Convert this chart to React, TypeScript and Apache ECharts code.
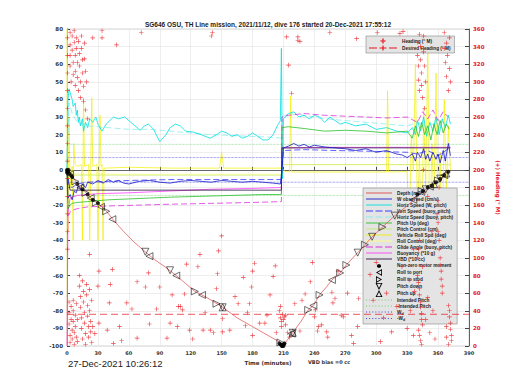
import React, { useEffect, useRef } from 'react';
import * as echarts from 'echarts';

const TITLE = 'SG646 OSU, TH Line mission, 2021/11/12, dive 176 started 20-Dec-2021 17:55:12';
const DATE_TEXT = '27-Dec-2021 10:26:12';
const VBD_TEXT = 'VBD bias =0 cc';

const X_MIN = 0, X_MAX = 390, X_STEP = 30;
const L_MIN = -100, L_MAX = 80, L_STEP = 10;
const R_MIN = 0, R_MAX = 360, R_STEP = 20;

const depthData = [[0,0],[1,-1],[6,-4.5],[11,-8.5],[16,-11.5],[20,-14],[25,-17],[30,-19],[35,-21.5],[39,-24],[45,-28.5],[55,-35],[65,-41],[76,-46.5],[85,-51],[95,-55],[106,-60],[115,-64.5],[124,-69],[131,-71],[140,-74],[151,-78],[165,-84],[180,-89],[195,-94],[207,-98],[209,-100],[212,-98],[219,-92.5],[227,-86],[234,-79.5],[239,-77],[245,-71],[251,-67],[257,-62.5],[265,-58.5],[271,-54],[282,-47],[289,-42.5],[296,-38],[306,-32.5],[318,-26],[333,-19],[340,-14],[354,-9],[362,-5],[370,-1]];

const wObsData = [[0,0],[1,-16],[3,-14],[5,-17],[7,-12],[9,-13],[11,-9],[13,-11],[15,-8],[18,-10],[20,-7],[25,-8],[30,-6],[35,-7.5],[40,-5.5],[45,-7],[50,-6],[55,-7.5],[60,-8],[70,-6.5],[80,-6],[90,-7],[100,-7.5],[110,-6.5],[120,-6],[130,-6.5],[140,-7],[150,-6],[160,-6.5],[170,-7],[180,-6.5],[190,-7],[200,-7.5],[207,-8],[208.5,0],[210,12.5],[215,13.5],[220,15],[225,13.5],[230,14.5],[235,13],[240,14],[250,13],[260,12.5],[270,12],[280,11],[290,12],[300,10],[310,11],[320,9],[325,8.5],[330,7],[335,9],[338,5],[340,10],[343,7],[346,12],[348,6],[350,9],[352,5],[355,10],[358,6],[360,9],[362,4],[365,11],[367,5],[370,15],[372,8]];

const vertBuoyData = [[0,0],[2,-9],[5,-10],[10,-8],[20,-7],[40,-6.5],[60,-6],[100,-5.5],[150,-5.5],[208,-5.5],[208.5,0],[210,11],[230,11.5],[260,11],[300,10.5],[330,10],[340,9],[350,11],[360,8],[370,12]];

const horizWData = [[0,0],[1,40],[2,46],[3,44],[5,40],[6,36],[8,38],[9,31],[10,34],[11,27],[12,30],[13,25],[15,29],[16,22],[18,27],[20,24],[22,29],[25,27],[28,30],[30,26],[34,22],[38,26],[45,30],[50,29],[56,30],[62,27],[71,22.5],[75,25],[79,26],[84,23],[90,16],[96,20],[100,24],[105,26],[110,25],[115,22],[122,21.5],[130,20],[139,18],[145,20],[150,22],[155,21],[160,19],[165,20],[170,18],[175,19],[180,21],[185,19],[190,17],[195,17],[200,20],[204,25],[207,28],[208,69],[209,-5],[210,29],[215,32],[220,33],[225,30],[230,31],[235,29],[240,31],[245,30],[250,27],[255,30],[260,28],[265,26],[270,27],[280,25],[290,26],[300,23],[310,24],[320,22],[330,21],[335,24],[338,20],[340,28],[343,22],[346,30],[349,19],[352,27],[355,22],[358,30],[361,20],[364,29],[367,24],[370,31],[372,26]];

const horizBuoyData = [[0,0],[2,38],[5,32],[10,27],[20,25],[40,24],[60,23],[80,23],[100,22],[120,21],[140,20],[160,19.5],[180,19],[200,18.5],[208,18],[209,30],[215,32],[230,31],[250,29],[270,28],[290,27],[310,26],[330,25],[340,27],[350,24],[360,28],[370,26]];

const pitchUpData = [[0,0],[1,-22],[3,-20],[5,-19],[10,-18.5],[20,-18],[40,-17],[60,-16.5],[80,-16],[100,-15.5],[130,-15],[160,-14.5],[190,-14],[208,-14],[208.5,24],[215,24.5],[230,23.5],[250,22],[270,22.5],[290,22],[310,21],[330,22],[335,18],[338,25],[341,19],[344,27],[347,20],[350,25],[353,17],[356,26],[359,20],[362,28],[365,21],[368,26],[371,23]];

const pitchCtrlData = [[0,0],[2,-3],[208,-3],[208.5,3],[372,3]];

const rollData = [[0,0],[1,-35],[2,30],[3,-10],[5,2],[6,-40],[6.5,15],[8,3],[10,2],[14,3],[15,-40],[16,41],[17,2],[21,3],[22,-40],[24,41],[25,2],[29,3],[30,-40],[32,31],[33,2],[34,3],[35,-40],[36,1],[60,1.5],[100,1],[148,1],[150,10],[152,1],[208,1],[212,-1],[216,-1],[217,42],[218,-1.2],[260,-1.2],[310,-1.2],[311,45],[312,-1.2],[330,-1],[332,-40],[334,20],[336,-1],[338,60],[340,-30],[342,10],[344,-55],[346,35],[348,-10],[350,70],[352,-45],[354,15],[356,-20],[358,55],[360,-35],[362,10],[364,-60],[366,40],[368,-15],[370,25],[372,0]];

const rollCtrlData = [[0,-100],[0,80],[0.5,-2.5],[208,-2.5],[209,3],[372,3]];

const glideData = [[0,0],[1,-26],[3,-24],[5,-23],[10,-22],[20,-21],[40,-20.5],[70,-20],[100,-19.5],[140,-19],[180,-18.5],[208,-18],[208.5,30],[215,31],[230,32],[250,31],[270,30.5],[290,30],[310,29.5],[330,30],[340,27],[345,33],[350,29],[355,34],[360,28],[365,33],[370,30]];

const buoyData = [[0,-100],[0.5,-60],[1,-24],[3,-16],[10,-14.5],[30,-13.5],[60,-13],[100,-12],[140,-11],[180,-10.5],[208,-10],[208.5,12.5],[250,12.8],[300,12.8],[372,12.8]];

const vbdData = [[0,0],[1,-5],[3,-11.5],[208,-11.5],[208.5,12.5],[372,12.5]];

const motorData = [[0,0],[0.5,-0.5],[1,-1],[1.5,0],[0,-1.5],[2,-2],[4,-3],[5,-4],[10,-8],[15,-11],[20,-14],[25,-17],[30,-19],[206,-98.5],[207,-99],[208,-99.5],[208.5,-100],[209,-100],[209.5,-99.5],[210,-100],[210.5,-99],[211,-98.5],[340,-14],[345,-12],[350,-10],[354,-9],[358,-7],[362,-5],[366,-3],[370,-1]];

const rollPortData = [[3,-2.5],[13,-10],[23,-16],[33,-21],[44,-28],[80,-49],[106,-60],[131,-71],[218,-93],[239,-77],[257,-62.5],[336,-17],[352,-9.5],[366,-3]];
const rollStbdData = [[8,-6.5],[18,-13],[28,-18.5],[38,-23.5],[124,-69],[145,-76],[207,-98],[234,-79.5],[245,-71],[265,-58.5],[271,-54],[289,-42.5],[306,-32.5],[344,-12],[360,-6]];
const pitchDownData = [[76,-46.5],[100,-57],[151,-78],[219,-92.5],[282,-47],[296,-38],[318,-26],[348,-11],[362,-5]];
const pitchUpMarkData = [[151,-78],[219,-92.5],[356,-8],[368,-2]];

const intendedPitch = 14.5;
const wDesired = 7;
const desiredHeading = 36;

const headingData = [
[0.5,110],[0.5,130],[0.5,150],[0.5,170],[0.5,190],[0.5,210],[0.5,230],[0.5,250],[0.5,270],[0.5,290],[0.5,310],[0.5,330],[0.5,350],
[3,356],[3,342],[3,330],[3,318],[4,300],[5,352],[5,336],[6,322],[6,308],[7,358],[7,345],[8,330],[8,312],[8,296],[9,350],[9,338],[10,322],[10,305],[11,290],[11,346],[12,332],[12,318],[13,300],[13,282],[14,352],[14,338],[15,325],[15,310],[16,295],[16,278],[17,344],[17,326],[18,312],[18,268],[19,300],[20,258],
[25,350],[34,358],[34,350],[48,342],[72,356],[141,356],[140,352],[213,351],[224,351],[224,347],[255,356],[281,349],[301,356],[323,355],[326,357],[342,354],[215,319],[218,287],[226,346],
[340,345],[340,330],[341,318],[341,302],[342,290],[343,340],[343,325],[344,310],[344,296],[345,282],[346,352],[346,334],[347,318],[347,270],[348,300],
[366,356],[366,338],[367,322],[368,344],[368,306],[369,330],[370,290],[371,350],[371,315],[372,300],
[2,50],[2,38],[2,25],[3,12],[3,4],[4,45],[4,30],[5,18],[5,8],[6,52],[6,40],[6,28],[7,15],[7,2],[8,35],[8,22],[9,10],[9,48],[10,30],[10,5],[12,80],[12,68],[13,56],[13,44],[14,32],[14,20],[15,8],[15,74],[16,62],[16,50],[17,38],[17,26],[18,14],[18,2],[19,70],[19,58],[20,46],[20,34],[21,22],[21,10],[22,64],[22,40],[23,28],[23,16],[24,52],[24,4],
[22,104],[31,85],[44,87],[42,70],[30,68],[41,49],[58,49],[63,42],[68,73],[79,83],[76,67],[90,67],[87,42],[102,58],[100,26],[80,25],[51,22],[39,18],[27,14],[68,9],[97,9],[45,3],[53,6],[108,45],[31,26],[25,22],
[150,125],[147,108],[129,104],[116,93],[127,90],[146,82],[182,94],[180,85],[202,91],[171,78],[200,79],[145,65],[179,67],[197,58],[163,56],[114,59],[166,48],[177,48],[110,45],[112,41],[134,38],[175,38],[194,35],[107,22],[119,18],[132,18],[139,18],[151,16],[158,18],[173,23],[187,26],[192,26],[122,8],[142,15],[151,31],[180,12],[203,15],[207,32],
[206,40],[207,45],[208,28],[208,22],[209,36],[210,30],[211,33],[212,35],[212,24],[214,15],[216,10],
[238,95],[236,73],[231,59],[221,48],[228,52],[241,41],[257,61],[260,54],[263,85],[272,60],[268,33],[258,49],[244,22],[247,24],[252,16],[253,10],[276,12],[278,3],[283,54],[282,22],[266,35],[240,33],[243,17],[226,17],
[294,81],[297,52],[307,32],[315,16],[304,5],[310,60],[320,45],[325,90],[300,95],
[340,80],[341,72],[342,65],[342,58],[343,50],[343,44],[344,37],[344,30],[345,24],[341,18],[342,12],[343,6],[344,2],[345,90],[340,100],[341,110],[342,120],
[359,150],[360,140],[360,130],[361,120],[361,110],[362,100],[362,92],[363,85],[363,76],[364,68],[364,60],[360,165],[361,180],
[370,46],[371,40],[371,33],[372,26],[372,19],[373,12],[373,6],[370,2],[368,10],[368,22],
[330,20],[333,40],[336,12],[337,62],[348,30],[350,55],[352,15],[355,40],[357,8],[354,130],[350,170],[346,200],[336,110],[332,75]
];

const PLUS = 'path://M4.3,0h1.4v4.3h4.3v1.4h-4.3v4.3h-1.4v-4.3h-4.3v-1.4h4.3z';
const RED = '#e8141c';

// legend icon shapes
const ICON_LINE = 'path://M0,0h26v0.9h-26z';
const ICON_DASH = 'path://M0,0h7v0.9h-7zM9.5,0h7v0.9h-7zM19,0h7v0.9h-7z';
const ICON_DOT = 'path://M0,0h1v1h-1zM3,0h1v1h-1zM6,0h1v1h-1zM9,0h1v1h-1zM12,0h1v1h-1zM15,0h1v1h-1zM18,0h1v1h-1zM21,0h1v1h-1zM24,0h1v1h-1z';
const ICON_DOTMARK = 'path://M0,0M26,7M12,2.3h2l1,1v1.4l-1,1h-2l-1,-1v-1.4z';
const ICON_PLUS_ONLY = 'path://M0,0M28,6M13.2,0.5h1.6v1.7h1.7v1.6h-1.7v1.7h-1.6v-1.7h-1.7v-1.6h1.7z';
const ICON_DESIRED = 'path://M0,2.6h8v0.8h-8zM10.5,2.6h7v0.8h-7zM20,2.6h8v0.8h-8zM13.4,0.5h1.2v1.9h1.9v1.2h-1.9v1.9h-1.2v-1.9h-1.9v-1.2h1.9z';
const ICON_TRI_PORT = 'path://M0,0M26,7M16,0L16,7L10,3.5ZM15.2,1.4L11.6,3.5L15.2,5.6Z';
const ICON_TRI_STBD = 'path://M0,0M26,7M10,0L16,3.5L10,7ZM10.8,1.4L10.8,5.6L14.4,3.5Z';
const ICON_TRI_DOWN = 'path://M0,0M26,7M9.5,0L16.5,0L13,7ZM10.9,0.8L13,5L15.1,0.8Z';
const ICON_TRI_UP = 'path://M0,0M26,7M13,0L16.5,7L9.5,7ZM13,2L10.9,6.2L15.1,6.2Z';

function lineS(name: string, data: number[][], color: string, type: any = 'solid', width = 0.8, z = 2) {
  return {
    type: 'line', name, data, yAxisIndex: 0, symbol: 'none', showSymbol: false,
    lineStyle: { color, width, type }, itemStyle: { color }, z, silent: true,
  };
}
function markS(name: string, data: number[][], rotate: number) {
  return {
    type: 'scatter', name, data, yAxisIndex: 0, symbol: 'triangle', symbolSize: 7, symbolRotate: rotate,
    itemStyle: { color: 'rgba(255,255,255,0)', borderColor: '#000', borderWidth: 0.7 }, z: 6,
  };
}

const blackIcon = { color: '#000', borderWidth: 0, opacity: 1 };
const legendMain = [
  { name: 'Depth (m/10)', icon: ICON_LINE },
  { name: 'W observed (cm/s)', icon: ICON_LINE },
  { name: 'Horiz Speed (W, pitch)', icon: ICON_LINE },
  { name: 'Vert Speed (buoy, pitch)', icon: ICON_DASH },
  { name: 'Horiz Speed (buoy, pitch)', icon: ICON_DASH },
  { name: 'Pitch Up (deg)', icon: ICON_LINE },
  { name: 'Pitch Control (cm)', icon: ICON_LINE },
  { name: 'Vehicle Roll Spd (deg)', icon: ICON_LINE },
  { name: 'Roll Control (deg)', icon: ICON_LINE },
  { name: 'Glide Angle (buoy, pitch)', icon: ICON_DASH },
  { name: 'Buoyancy (*10 g)', icon: ICON_LINE },
  { name: 'VBD (*10 cc)', icon: ICON_LINE },
  { name: 'Non-zero motor moment', icon: ICON_DOTMARK, itemStyle: blackIcon },
  { name: 'Roll to port', icon: ICON_TRI_PORT, itemStyle: blackIcon },
  { name: 'Roll to stbd', icon: ICON_TRI_STBD, itemStyle: blackIcon },
  { name: 'Pitch down', icon: ICON_TRI_DOWN, itemStyle: blackIcon },
  { name: 'Pitch up', icon: ICON_TRI_UP, itemStyle: blackIcon },
  { name: 'Intended Pitch', icon: ICON_DOT },
  { name: '-Intended Pitch', icon: ICON_DOT },
  { name: 'W_d', icon: ICON_DOT },
  { name: '-W_d', icon: ICON_DOT },
];
const legendHead = [
  { name: 'Heading (° M)', icon: ICON_PLUS_ONLY },
  { name: 'Desired Heading (° M)', icon: ICON_DESIRED },
];

export default function App() {
  const ref = useRef<HTMLDivElement>(null);
  useEffect(() => {
    const chart = echarts.init(ref.current!, null, { renderer: 'svg' });
    const axisLabel = { fontSize: 5.5, fontWeight: 'bold', color: '#333', fontFamily: 'DejaVu Sans' };
    const legendText = { fontSize: 4.7, fontWeight: 'bold', color: '#222', fontFamily: 'Liberation Sans', lineHeight: 6,
      rich: { w: { fontSize: 4.7, fontWeight: 'bold', fontFamily: 'Liberation Sans', color: '#222' }, s: { fontSize: 3.5, fontWeight: 'bold', fontFamily: 'Liberation Sans', color: '#222', padding: [3, 0, 0, 0] } } };
    const option: any = {
      animation: false,
      backgroundColor: '#fff',
      grid: { left: 67, right: 51, top: 29, bottom: 44, show: true, borderColor: '#aaa', borderWidth: 0.5 },
      xAxis: {
        type: 'value', min: X_MIN, max: X_MAX, interval: X_STEP,
        name: 'Time (minutes)', nameLocation: 'middle', nameGap: 12,
        nameTextStyle: { fontSize: 5.5, fontWeight: 'bold', color: '#333', fontFamily: 'DejaVu Sans' },
        axisLine: { lineStyle: { color: '#444', width: 0.8 } },
        axisTick: { inside: true, length: 3, lineStyle: { color: '#444' } },
        axisLabel: { ...axisLabel, fontSize: 5, margin: 4 },
        splitLine: { show: true, lineStyle: { color: '#e2e2e2', width: 0.6 } },
      },
      yAxis: [
        {
          type: 'value', min: L_MIN, max: L_MAX, interval: L_STEP, position: 'left',
          axisLine: { show: true, lineStyle: { color: '#444', width: 0.8 } },
          axisTick: { show: true, inside: true, length: 3, lineStyle: { color: '#444' } },
          axisLabel: { ...axisLabel, margin: 4 },
          splitLine: { show: true, lineStyle: { color: '#e2e2e2', width: 0.6 } },
        },
        {
          type: 'value', min: R_MIN, max: R_MAX, interval: R_STEP, position: 'right',
          name: '(+) Heading (° M)', nameLocation: 'middle', nameRotate: -90, nameGap: 16,
          nameTextStyle: { fontSize: 5.5, fontWeight: 'bold', color: RED, fontFamily: 'DejaVu Sans' },
          axisLine: { show: true, lineStyle: { color: '#7a2a2a', width: 0.8 } },
          axisTick: { show: true, inside: true, length: 4, lineStyle: { color: '#444' } },
          axisLabel: { ...axisLabel, color: RED, margin: 4 },
          splitLine: { show: false },
        },
      ],
      legend: [
        {
          data: legendHead, orient: 'vertical', left: 366, top: 36, itemWidth: 28, itemHeight: 6, itemGap: 1,
          padding: [2, 4, 2, 3], backgroundColor: '#e4e4e4', borderColor: '#888', borderWidth: 0.6,
          textStyle: legendText, selectedMode: false, symbolKeepAspect: true, symbolRotate: 0, z: 3,
        },
        {
          data: legendMain, orient: 'vertical', left: 363, top: 188, itemWidth: 26, itemHeight: 7, itemGap: 0,
          padding: [2, 4, 2, 3], backgroundColor: '#e4e4e4', borderColor: '#888', borderWidth: 0.6,
          textStyle: legendText, selectedMode: false, symbolKeepAspect: true, symbolRotate: 0, z: 3,
          formatter: (n: string) => (n === 'W_d' ? '{w|W}{s|d}' : n === '-W_d' ? '{w|-W}{s|d}' : n),
        },
      ],
      graphic: [
        { type: 'text', x: 268, y: 24, style: { text: TITLE, align: 'center', verticalAlign: 'middle', fontSize: 6.5, fontWeight: 'bold', fontFamily: 'Liberation Sans', fill: '#222' } },
        { type: 'text', x: 68, y: 363, style: { text: DATE_TEXT, align: 'left', verticalAlign: 'middle', fontSize: 9.5, fontFamily: 'Liberation Sans', fill: '#222' } },
        { type: 'text', x: 308, y: 362, style: { text: VBD_TEXT, align: 'left', verticalAlign: 'middle', fontSize: 5, fontWeight: 'bold', fontFamily: 'DejaVu Sans', fill: '#333' } },
      ],
      series: [
        lineS('Roll Control (deg)', rollCtrlData, '#ffff80', 'solid', 0.8, 1),
        lineS('Vehicle Roll Spd (deg)', rollData, '#f2f000', 'solid', 0.7, 1),
        lineS('Pitch Control (cm)', pitchCtrlData, '#c8e870', 'solid', 0.7, 1),
        lineS('Intended Pitch', [[X_MIN, intendedPitch], [X_MAX, intendedPitch]], '#70d070', 'dotted', 0.7),
        lineS('-Intended Pitch', [[X_MIN, -intendedPitch], [X_MAX, -intendedPitch]], '#70d070', 'dotted', 0.7),
        lineS('W_d', [[X_MIN, wDesired], [X_MAX, wDesired]], '#4a4ae0', 'dotted', 0.7),
        lineS('-W_d', [[X_MIN, -wDesired], [X_MAX, -wDesired]], '#4a4ae0', 'dotted', 0.7),
        lineS('Horiz Speed (buoy, pitch)', horizBuoyData, '#8cecec', [6, 3], 0.8),
        lineS('Horiz Speed (W, pitch)', horizWData, '#00e0e0', 'solid', 0.8),
        lineS('Glide Angle (buoy, pitch)', glideData, '#e030e0', [6, 3], 0.8),
        lineS('Buoyancy (*10 g)', buoyData, '#ff40ff', 'solid', 0.8),
        lineS('Pitch Up (deg)', pitchUpData, '#28c028', 'solid', 0.8),
        lineS('VBD (*10 cc)', vbdData, '#2a1540', 'solid', 0.8),
        lineS('Vert Speed (buoy, pitch)', vertBuoyData, '#3a3aff', [6, 3], 0.8),
        lineS('W observed (cm/s)', wObsData, '#1818c8', 'solid', 0.8),
        lineS('Depth (m/10)', depthData, '#e04848', 'solid', 0.7, 4),
        {
          type: 'line', name: 'Desired Heading (° M)', yAxisIndex: 1, data: [[X_MIN, desiredHeading], [X_MAX, desiredHeading]],
          symbol: 'none', showSymbol: false, lineStyle: { color: RED, width: 0.7, type: [7, 4] }, itemStyle: { color: RED }, z: 3,
        },
        {
          type: 'scatter', name: 'Heading (° M)', yAxisIndex: 1, data: headingData, symbol: PLUS, symbolSize: 4.6,
          itemStyle: { color: RED }, z: 5,
        },
        {
          type: 'scatter', name: 'Non-zero motor moment', yAxisIndex: 0, data: motorData, symbol: 'circle', symbolSize: 4,
          itemStyle: { color: '#000' }, z: 6,
        },
        markS('Roll to port', rollPortData, 90),
        markS('Roll to stbd', rollStbdData, -90),
        markS('Pitch down', pitchDownData, 180),
        markS('Pitch up', pitchUpMarkData, 0),
      ],
    };
    chart.setOption(option);
    return () => chart.dispose();
  }, []);
  return <div ref={ref} style={{ position: 'fixed', left: 0, top: 0, width: 520, height: 390 }} />;
}
